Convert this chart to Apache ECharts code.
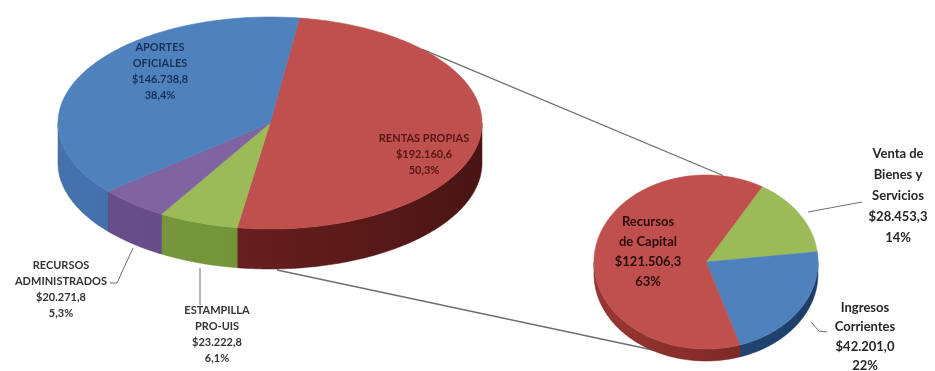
<!DOCTYPE html>
<html>
<head>
<meta charset="utf-8">
<script src="https://cdn.jsdelivr.net/npm/echarts@6/dist/echarts.min.js"></script>
<style>
  html, body { margin: 0; padding: 0; background: #ffffff; }
  #chart { width: 935px; height: 371px; }
</style>
</head>
<body>
<div id="chart"></div>
<script>
// Revenue sources (main pie), in clockwise order from the top
const mainNames = ['RENTAS PROPIAS', 'ESTAMPILLA\nPRO-UIS', 'RECURSOS\nADMINISTRADOS', 'APORTES\nOFICIALES'];
const mainValues = [192160.6, 23222.8, 20271.8, 146738.8];
const mainPercents = ['50,3%', '6,1%', '5,3%', '38,4%'];

// Breakdown of RENTAS PROPIAS (secondary pie)
const subNames = ['Venta de\nBienes y\nServicios', 'Ingresos\nCorrientes', 'Recursos\nde Capital'];
const subValues = [28453.3, 42201.0, 121506.3];
const subPercents = ['14%', '22%', '63%'];

// ---- styling / layout ----
const FONT = 'Lato, "Open Sans", sans-serif';
const mainGeo = { cx: 270, cy: 123, rx: 212, ry: 106, depth: 40, start: 8 };
const subGeo  = { cx: 706, cy: 262, rx: 112, ry: 87, depth: 12, start: 30 };

const mainStyle = {
  top:  ['#C0504D', '#9BBB59', '#8064A2', '#4F81BD'],
  side: [['#7d2826', '#4a1414'], ['#7a9a3e', '#6d8c35'], ['#6a4f8e', '#5a4379'], ['#4572ad', '#3a659c']],
  text: ['#551614', '#333333', '#333333', '#15325c'],
  size: [11, 11, 11, 11],
  lineHeight: [16, 16, 16, 16],
  labelPos: [[424, 154], [217, 334], [61, 289], [160, 71]]
};
const subStyle = {
  top:  ['#9BBB59', '#4F81BD', '#C0504D'],
  side: [['#76923c', '#6a8434'], ['#2a5285', '#1d3d66'], ['#9a3633', '#6e2220']],
  text: ['#262626', '#262626', '#2a0b0b'],
  size: [13, 13, 13],
  lineHeight: [21, 19.5, 20],
  labelPos: [[898, 196], [865, 337], [648, 252]]
};

function money(v) {
  const parts = v.toFixed(1).split('.');
  const intPart = parts[0].replace(/\B(?=(\d{3})+(?!\d))/g, '.');
  return '$' + intPart + ',' + parts[1];
}

function arcPoints(g, a0, a1, dy) {
  const pts = [];
  const n = Math.max(2, Math.ceil(Math.abs(a1 - a0)));
  for (let k = 0; k <= n; k++) {
    const t = (a0 + (a1 - a0) * k / n) * Math.PI / 180;
    pts.push([g.cx + g.rx * Math.sin(t), g.cy - g.ry * Math.cos(t) + dy]);
  }
  return pts;
}

function sliceAngles(values, g) {
  const total = values.reduce((a, b) => a + b, 0);
  let acc = 0;
  return values.map(v => {
    const a0 = g.start + 360 * acc / total;
    acc += v;
    return [a0, g.start + 360 * acc / total];
  });
}

// Visible wall of a slice: the part of its rim on the near (lower) half
function sideSpans(a0, a1) {
  const spans = [];
  [[90, 270], [450, 630]].forEach(([l, h]) => {
    const s = Math.max(a0, l), e = Math.min(a1, h);
    if (e > s) spans.push([s, e]);
  });
  return spans;
}

function sideSeries(values, g, style, z) {
  const angles = sliceAngles(values, g);
  return {
    type: 'custom', coordinateSystem: 'none', z: z, silent: true,
    data: values.map((v, i) => [i, v]),
    renderItem: function (params) {
      const i = params.dataIndex;
      const [a0, a1] = angles[i];
      const children = sideSpans(a0, a1).map(([s, e]) => {
        const topEdge = arcPoints(g, s, e, 0);
        const bottomEdge = arcPoints(g, e, s, g.depth);
        return {
          type: 'polygon',
          shape: { points: topEdge.concat(bottomEdge) },
          style: {
            fill: {
              type: 'linear', global: true,
              x: g.cx - g.rx, y: 0, x2: g.cx + g.rx, y2: 0,
              colorStops: [{ offset: 0, color: style.side[i][0] }, { offset: 1, color: style.side[i][1] }]
            },
            stroke: style.side[i][1], lineWidth: 0.5
          }
        };
      });
      return { type: 'group', children: children };
    }
  };
}

function topSeries(names, values, percents, g, style, z) {
  const angles = sliceAngles(values, g);
  return {
    type: 'custom', coordinateSystem: 'none', z: z, silent: true,
    data: values.map((v, i) => [i, v]),
    renderItem: function (params) {
      const i = params.dataIndex;
      const [a0, a1] = angles[i];
      const pts = [[g.cx, g.cy]].concat(arcPoints(g, a0, a1, 0));
      return {
        type: 'group',
        children: [
          { type: 'polygon', shape: { points: pts },
            style: { fill: style.top[i], stroke: style.top[i], lineWidth: 0.6 } },
          { type: 'text', z2: 10,
            x: style.labelPos[i][0], y: style.labelPos[i][1],
            style: {
              text: names[i] + '\n' + money(values[i]) + '\n' + percents[i],
              fill: style.text[i], font: 'bold ' + style.size[i] + 'px ' + FONT,
              lineHeight: style.lineHeight[i],
              align: 'center', verticalAlign: 'middle'
            } }
        ]
      };
    }
  };
}

// Connector and leader lines
const lineColor = '#6e6e6e';
function line(points, w) {
  return { type: 'polyline', silent: true, z: 1, shape: { points: points },
           style: { stroke: lineColor, lineWidth: w || 1.3, fill: null } };
}
const connUpperAngle = 46 * Math.PI / 180;
const upperStart = [mainGeo.cx + mainGeo.rx * Math.sin(connUpperAngle), mainGeo.cy - mainGeo.ry * Math.cos(connUpperAngle)];
const upperEnd = [subGeo.cx + 17, subGeo.cy - subGeo.ry + 0.5];
const lowerStart = [mainGeo.cx + 7, mainGeo.cy + mainGeo.ry + mainGeo.depth + 1];
const lowerEnd = [subGeo.cx - 6, subGeo.cy + subGeo.ry + subGeo.depth - 1];

const chart = echarts.init(document.getElementById('chart'), null, { renderer: 'canvas' });
chart.setOption({
  backgroundColor: '#ffffff',
  animation: false,
  graphic: [
    line([upperStart, upperEnd]),
    line([lowerStart, lowerEnd]),
    line([[110, 283], [117, 283], [133, 248]], 1),
    line([[200, 268], [200, 305]], 1),
    line([[808, 212], [862, 202]], 1),
    line([[811, 322], [819, 331], [827, 332]], 1)
  ],
  series: [
    sideSeries(mainValues, mainGeo, mainStyle, 2),
    topSeries(mainNames, mainValues, mainPercents, mainGeo, mainStyle, 3),
    sideSeries(subValues, subGeo, subStyle, 2),
    topSeries(subNames, subValues, subPercents, subGeo, subStyle, 3)
  ]
});
</script>
</body>
</html>
